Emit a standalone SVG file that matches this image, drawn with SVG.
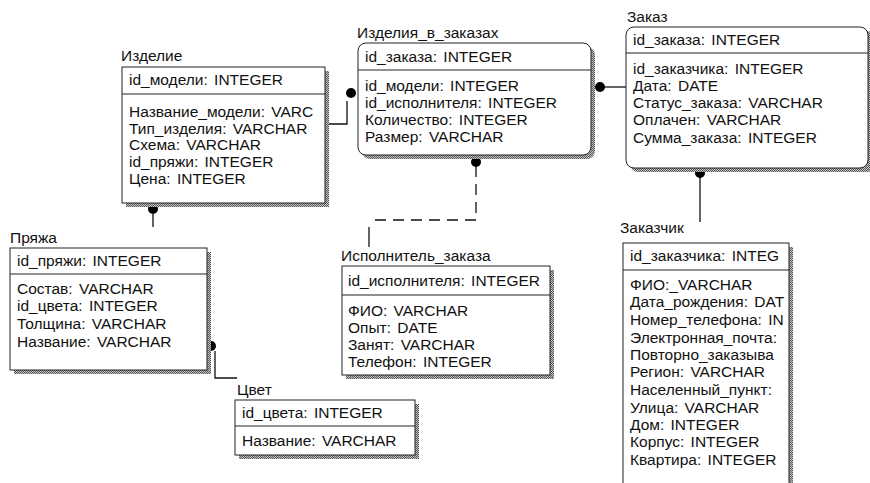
<svg xmlns="http://www.w3.org/2000/svg" width="870" height="483" viewBox="0 0 870 483">
<style>
text{font-family:"Liberation Sans",Arial,sans-serif;font-size:15.5px;word-spacing:2px;fill:#111}
.box{fill:#fff;stroke:#222;stroke-width:1}
.sh{fill:url(#dither)}
.sep{stroke:#222;stroke-width:1}
.ln{fill:none;stroke:#111;stroke-width:1.3}
.dash{fill:none;stroke:#111;stroke-width:1.3;stroke-dasharray:11 7}
.dot{fill:#000}
</style>
<defs>
<pattern id="dither" width="2" height="2" patternUnits="userSpaceOnUse">
<rect width="2" height="2" fill="#c8c8c8"/>
<rect width="1" height="1" fill="#555"/>
<rect x="1" y="1" width="1" height="1" fill="#555"/>
</pattern>
<clipPath id="cIzd"><rect x="122" y="67" width="202" height="136"/></clipPath>
<clipPath id="cZch"><rect x="623" y="243" width="165" height="245"/></clipPath>
</defs>

<g id="connectors">
<polyline class="ln" points="329,124 347,124 347,101"/>
<circle class="dot" cx="351" cy="93" r="5"/>
<line class="ln" x1="600" y1="87" x2="626" y2="87"/>
<circle class="dot" cx="600" cy="87" r="5"/>
<line class="ln" x1="700" y1="176" x2="700" y2="222"/>
<circle class="dot" cx="700" cy="173" r="5"/>
<polyline class="dash" points="476,166 476,220 369,220"/>
<line class="ln" x1="369" y1="227" x2="369" y2="247"/>
<circle class="dot" cx="476" cy="162" r="5"/>
<line class="ln" x1="153" y1="214" x2="153" y2="227"/>
<circle class="dot" cx="153" cy="209" r="5"/>
<polyline class="ln" points="215,351 215,378 237,378"/>
<circle class="dot" cx="211" cy="346" r="5"/>
</g>

<g id="izdelie">
<text x="121" y="61">Изделие</text>
<rect class="sh" x="126" y="71" width="203" height="136"/>
<rect class="box" x="122" y="67" width="203" height="136"/>
<line class="sep" x1="122" y1="94" x2="325" y2="94"/>
<g clip-path="url(#cIzd)">
<text x="129" y="85">id_модели: INTEGER</text>
<text x="129" y="117">Название_модели: VARC</text>
<text x="129" y="134">Тип_изделия: VARCHAR</text>
<text x="129" y="150">Схема: VARCHAR</text>
<text x="129" y="167">id_пряжи: INTEGER</text>
<text x="129" y="184">Цена: INTEGER</text>
</g>
</g>

<g id="izdeliya_v_zakazah">
<text x="357" y="38">Изделия_в_заказах</text>
<rect class="sh" x="362" y="47" width="233" height="112" rx="8"/>
<rect class="box" x="358" y="43" width="233" height="112" rx="8"/>
<line class="sep" x1="358" y1="70" x2="591" y2="70"/>
<text x="365" y="62">id_заказа: INTEGER</text>
<text x="365" y="91">id_модели: INTEGER</text>
<text x="365" y="108">id_исполнителя: INTEGER</text>
<text x="365" y="125">Количество: INTEGER</text>
<text x="365" y="142">Размер: VARCHAR</text>
</g>

<g id="zakaz">
<text x="627" y="22">Заказ</text>
<rect class="sh" x="630" y="31" width="245" height="141" rx="8"/>
<rect class="box" x="626" y="27" width="242" height="141" rx="8"/>
<line class="sep" x1="626" y1="53" x2="868" y2="53"/>
<text x="633" y="45">id_заказа: INTEGER</text>
<text x="633" y="74">id_заказчика: INTEGER</text>
<text x="633" y="91">Дата: DATE</text>
<text x="633" y="108">Статус_заказа: VARCHAR</text>
<text x="633" y="125">Оплачен: VARCHAR</text>
<text x="633" y="143">Сумма_заказа: INTEGER</text>
</g>

<g id="zakazchik">
<text x="620" y="233">Заказчик</text>
<rect class="sh" x="627" y="247" width="166" height="250"/>
<rect class="box" x="623" y="243" width="166" height="250"/>
<line class="sep" x1="623" y1="270" x2="789" y2="270"/>
<g clip-path="url(#cZch)">
<text x="630" y="261">id_заказчика: INTEG</text>
<text x="630" y="290">ФИО:_VARCHAR</text>
<text x="630" y="307">Дата_рождения: DAT</text>
<text x="630" y="325">Номер_телефона: IN</text>
<text x="630" y="343">Электронная_почта:</text>
<text x="630" y="360">Повторно_заказыва</text>
<text x="630" y="377">Регион: VARCHAR</text>
<text x="630" y="395">Населенный_пункт:</text>
<text x="630" y="413">Улица: VARCHAR</text>
<text x="630" y="430">Дом: INTEGER</text>
<text x="630" y="447">Корпус: INTEGER</text>
<text x="630" y="465">Квартира: INTEGER</text>
</g>
</g>

<g id="pryazha">
<text x="10" y="243">Пряжа</text>
<rect class="sh" x="14" y="252" width="197" height="122"/>
<rect class="box" x="10" y="248" width="197" height="122"/>
<line class="sep" x1="10" y1="274" x2="207" y2="274"/>
<text x="17" y="266">id_пряжи: INTEGER</text>
<text x="17" y="294">Состав: VARCHAR</text>
<text x="17" y="311">id_цвета: INTEGER</text>
<text x="17" y="329">Толщина: VARCHAR</text>
<text x="17" y="347">Название: VARCHAR</text>
</g>

<g id="tsvet">
<text x="237" y="395">Цвет</text>
<rect class="sh" x="239" y="404" width="180" height="55"/>
<rect class="box" x="235" y="400" width="180" height="55"/>
<line class="sep" x1="235" y1="426" x2="415" y2="426"/>
<text x="242" y="418">id_цвета: INTEGER</text>
<text x="242" y="446">Название: VARCHAR</text>
</g>

<g id="ispolnitel_zakaza">
<text x="341" y="261">Исполнитель_заказа</text>
<rect class="sh" x="346" y="270" width="208" height="109"/>
<rect class="box" x="342" y="266" width="208" height="109"/>
<line class="sep" x1="342" y1="295" x2="550" y2="295"/>
<text x="348" y="286">id_исполнителя: INTEGER</text>
<text x="348" y="316">ФИО: VARCHAR</text>
<text x="348" y="333">Опыт: DATE</text>
<text x="348" y="350">Занят: VARCHAR</text>
<text x="348" y="367">Телефон: INTEGER</text>
</g>
</svg>
